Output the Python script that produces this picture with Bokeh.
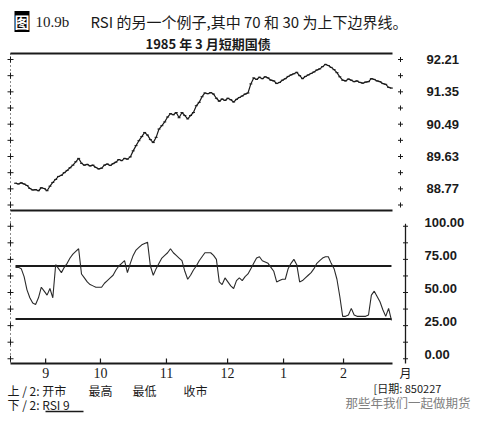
from bokeh.plotting import figure
from bokeh.models import Range1d, Label
from bokeh.core.properties import value
from bokeh.embed import file_html
from bokeh.resources import INLINE

# ---- data ----
price_close = [
    88.92, 88.90, 88.93, 88.90, 88.86, 88.78, 88.74, 88.75, 88.72, 88.80,
    88.78, 88.72, 88.84, 88.94, 89.02, 89.10, 89.13, 89.20, 89.26, 89.33,
    89.40, 89.49, 89.58, 89.45, 89.40, 89.42, 89.38, 89.40, 89.34, 89.30,
    89.32, 89.40, 89.43, 89.39, 89.44, 89.48, 89.55, 89.52, 89.58, 89.56,
    89.62, 89.78, 89.92, 90.05, 90.16, 90.27, 90.20, 90.08, 90.00, 90.14,
    90.36, 90.45, 90.55, 90.68, 90.77, 90.74, 90.80, 90.66, 90.80, 90.72,
    90.63, 90.72, 90.80, 90.98, 91.07, 91.22, 91.32, 91.30, 91.33, 91.29,
    91.18, 91.10, 91.16, 91.12, 91.18, 91.14, 91.08, 91.15, 91.20, 91.24,
    91.29, 91.32, 91.56, 91.72, 91.68, 91.74, 91.70, 91.75, 91.72, 91.66,
    91.64, 91.57, 91.60, 91.66, 91.70, 91.76, 91.80, 91.83, 91.87, 91.78,
    91.70, 91.76, 91.80, 91.84, 91.88, 91.93, 91.96, 92.02, 92.08, 92.05,
    92.00, 91.94, 91.86, 91.75, 91.66, 91.64, 91.69, 91.66, 91.62, 91.64,
    91.60, 91.58, 91.61, 91.62, 91.70, 91.68, 91.64, 91.62, 91.57, 91.55,
    91.47, 91.45,
]
rsi9 = [
    69, 69, 68, 62, 52, 46, 42, 41, 46, 54,
    51, 48, 53, 46, 71, 68, 65, 69, 72, 76,
    79, 81, 83, 64, 61, 58, 56, 55, 54, 54,
    54, 57, 59, 61, 63, 67, 70, 72, 74, 65,
    72, 78, 82, 84, 86, 87, 88, 70, 63, 68,
    72, 76, 78, 80, 83, 80, 78, 76, 74, 66,
    60, 63, 67, 70, 74, 77, 80, 80, 80, 78,
    75, 58, 56, 61, 58, 55, 53, 59, 61, 59,
    62, 64, 68, 72, 76, 77, 74, 73, 72, 69,
    66, 58, 59, 60, 60, 68, 72, 75, 71, 58,
    59, 61, 63, 65, 68, 72, 74, 76, 77, 77,
    72, 68, 60, 47, 32, 32, 33, 38, 33, 32,
    32, 32, 32, 33, 48, 51, 47, 43, 37, 32,
    38, 29,
]
days = list(range(len(price_close)))

month_pos = [10.5, 29.6, 52.6, 73.9, 93.4, 114.3]
month_labels = ["9", "10", "11", "12", "1", "2"]
price_ticks = [88.77, 89.63, 90.49, 91.35, 92.21]
price_tick_labels = ["88.77", "89.63", "90.49", "91.35", "92.21"]
rsi_ticks = [0, 25, 50, 75, 100]
rsi_tick_labels = ["0.00", "25.00", "50.00", "75.00", "100.00"]
rsi_bounds = [70, 30]

# ---- layout (page pixels; the canvas sits at the page origin) ----
M = 0
W, H = 474, 415
X0, DX = 15.0, 2.87       # page x of day 0, px per trading day

def X(px):                # page x -> day units
    return (px - X0) / DX

# price: 92.21 at page y 59, 37.6 px per point
P_REF, P_Y, P_S = 92.21, 59.0, 37.6
# rsi: 70 at page y 265.5, 1.325 px per unit
R_REF, R_Y, R_S = 70.0, 265.5, 1.325

top_px, bot_px = M, M + H
p = figure(width=W, height=H, output_backend="svg", toolbar_location=None,
           x_range=Range1d(X(M), X(M + W)),
           y_range=Range1d(bot_px, top_px),
           x_axis_location=None, y_axis_location=None,
           min_border=0, outline_line_color=None,
           background_fill_color="white", border_fill_color="white")
p.grid.visible = False
p.extra_y_ranges = {
    "price": Range1d(P_REF - (bot_px - P_Y) / P_S, P_REF + (P_Y - top_px) / P_S),
    "rsi": Range1d(R_REF - (bot_px - R_Y) / R_S, R_REF + (R_Y - top_px) / R_S),
}

INK = "#1a1a1a"
CJK = "Noto Sans CJK SC"

# panel frame lines (page rows)
frame_y = [53, 210]
p.segment(x0=[X(10)] * 2, y0=frame_y, x1=[X(392)] * 2, y1=frame_y,
          line_color=INK, line_width=2)
# bottom (month) axis
p.segment(x0=[X(10)], y0=[363], x1=[X(392)], y1=[363], line_color=INK, line_width=2.2)
p.segment(x0=month_pos, y0=[363] * len(month_pos), x1=month_pos,
          y1=[358] * len(month_pos), line_color=INK, line_width=1.2)
p.text(x=month_pos, y=[372] * len(month_pos), text=month_labels,
       text_font=value("Liberation Serif"), text_font_size="14px",
       text_color=INK, text_align="center", text_baseline="middle")
p.text(x=[X(399)], y=[372], text=["月"], text_font=value(CJK),
       text_font_size="12px", text_color=INK, text_baseline="middle")

# left side rules (dotted) and right rsi axis line
p.segment(x0=[X(10)], y0=[53], x1=[X(10)], y1=[363], line_color=INK,
          line_width=1, line_dash="1 3")
p.segment(x0=[X(405)], y0=[224], x1=[X(405)], y1=[363], line_color=INK, line_width=1.3)

# price ticks ('+') on both sides
pminor = [(a + b) / 2 for a, b in zip(price_ticks[:-1], price_ticks[1:])]
pminor = [price_ticks[0] - (price_ticks[1] - price_ticks[0]) / 2] + pminor
pt_all = price_ticks + pminor
p.scatter([X(10)] * len(pt_all), pt_all, marker="cross", size=6, line_color=INK,
          y_range_name="price")
p.scatter([X(400)] * len(pt_all), pt_all, marker="cross", size=5, line_color=INK,
          y_range_name="price")
p.text(x=[X(426)] * len(price_ticks), y=price_ticks, text=price_tick_labels,
       y_range_name="price", text_font=value("Liberation Sans"),
       text_font_style="bold", text_font_size="13px", text_color=INK,
       text_baseline="middle")

# rsi ticks
rminor = [(a + b) / 2 for a, b in zip(rsi_ticks[:-1], rsi_ticks[1:])]
rt_all = rsi_ticks + rminor
p.scatter([X(10)] * len(rt_all), rt_all, marker="cross", size=6, line_color=INK,
          y_range_name="rsi")
p.scatter([X(405)] * len(rt_all), rt_all, marker="cross", size=5, line_color=INK,
          y_range_name="rsi")
p.text(x=[X(424)] * len(rsi_ticks), y=rsi_ticks, text=rsi_tick_labels,
       y_range_name="rsi", y_offset=-4, text_font=value("Liberation Sans"),
       text_font_style="bold", text_font_size="13px", text_color=INK,
       text_baseline="middle")

# series
p.line(days, price_close, y_range_name="price", line_color=INK, line_width=1.2)
p.scatter(days, price_close, y_range_name="price", marker="dash", size=3,
          line_color=INK)
p.segment(x0=[days[0]] * len(rsi_bounds), y0=rsi_bounds,
          x1=[days[-1]] * len(rsi_bounds), y1=rsi_bounds,
          y_range_name="rsi", line_color=INK, line_width=2)
p.line(days, rsi9, y_range_name="rsi", line_color="#2a2a2a", line_width=1.1)

# texts
def lab(px, py, text, size="12px", font=CJK, color=INK, style="normal", **kw):
    p.add_layout(Label(x=X(px), y=py, text=text, text_font=font,
                       text_font_size=size, text_color=color,
                       text_font_style=style, text_baseline="middle", **kw))

lab(14, 21, "图", size="15px", style="bold", color="white",
    background_fill_color="black")
lab(35, 21, "10.9b", size="15px", font="Liberation Serif")
lab(90, 21, "RSI 的另一个例子,其中 70 和 30 为上下边界线。", size="15px")
lab(145, 43, "1985 年 3 月短期国债", size="13px", style="bold")

lab(7, 390, "上 / 2: 开市")
lab(88, 390, "最高")
lab(132, 390, "最低")
lab(183, 390, "收市")
lab(373, 387, "[日期: 850227", size="11px")
lab(7, 404, "下 / 2: RSI 9")
p.segment(x0=[X(45)], y0=[411], x1=[X(83)], y1=[411], line_color=INK, line_width=1.5)
lab(345, 402, "那些年我们一起做期货", size="12.5px", color="#808080")

open("out.html", "w").write(file_html(p, INLINE))
